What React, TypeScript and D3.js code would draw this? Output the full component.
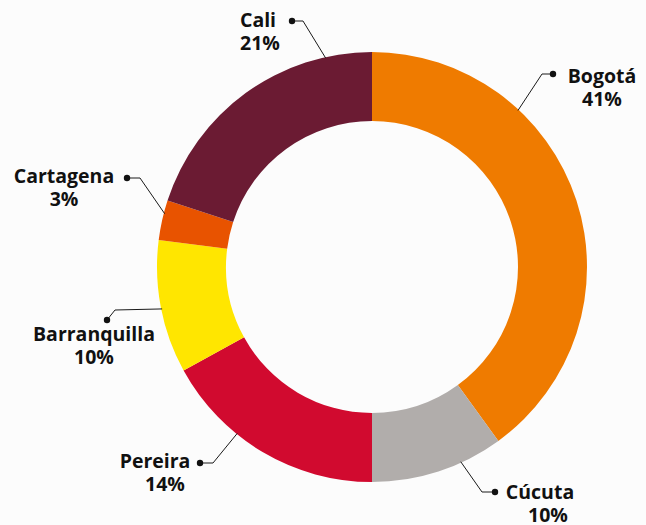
import React from "react";
import * as d3 from "d3";

const cities = ["Bogotá", "Cúcuta", "Pereira", "Barranquilla", "Cartagena", "Cali"];
const shares = [40, 10, 17, 10, 3, 20];
const shareLabels = ["41%", "10%", "14%", "10%", "3%", "21%"];
const colors = ["#EF7B00", "#B1ADAB", "#D10A2F", "#FFE600", "#E85300", "#6B1B33"];

// annotation layout (relative to chart center)
const leaderAngles = [43, 155.5, 219, 258.7, 284.4, 347.5];
const leaderElbows: [number, number][] = [[170, -193], [110, 225], [-159, 196], [-257, 43], [-232, -89], [-69, -246]];
const leaderDots: [number, number][] = [[181, -193], [123, 225], [-172, 196], [-265, 53], [-245, -89], [-80, -246]];
const labelPos: [number, number][] = [[230, -184], [168, 232], [-217, 201], [-278, 74], [-308, -84], [-114, -240]];
const pctShift = [0, 8, 10, 0, 0, 2];

const W = 646;
const H = 525;
const cx = 372;
const cy = 267;
const R = 215;
const r0 = 146;

export default function App() {
  const pie = d3.pie<number>().value((d) => d).sort(null)(shares);
  const arc = d3.arc<d3.PieArcDatum<number>>().innerRadius(r0).outerRadius(R);
  return (
    <svg width={W} height={H} style={{ position: "absolute", left: 0, top: 0, background: "#fcfcfc" }}
      fontFamily="'Open Sans', sans-serif" fontWeight={700}>
      <g transform={`translate(${cx},${cy})`}>
        {pie.map((p, i) => (
          <path key={cities[i]} d={arc(p) || ""} fill={colors[i]} />
        ))}
        {cities.map((c, i) => {
          const a = (leaderAngles[i] * Math.PI) / 180;
          const sx = Math.sin(a) * (R - 1);
          const sy = -Math.cos(a) * (R - 1);
          const [ex, ey] = leaderElbows[i];
          const [dx, dy] = leaderDots[i];
          const [lx, ly] = labelPos[i];
          return (
            <g key={"l" + c}>
              <polyline points={`${sx},${sy} ${ex},${ey} ${dx},${dy}`} fill="none" stroke="#1a1a1a" strokeWidth={1} />
              <circle cx={dx} cy={dy} r={3.2} fill="#111" />
              <text x={lx} y={ly} textAnchor="middle" fontSize={19.5} fill="#111">{c}</text>
              <text x={lx + pctShift[i]} y={ly + 23} textAnchor="middle" fontSize={19.5} fill="#111">{shareLabels[i]}</text>
            </g>
          );
        })}
      </g>
    </svg>
  );
}
